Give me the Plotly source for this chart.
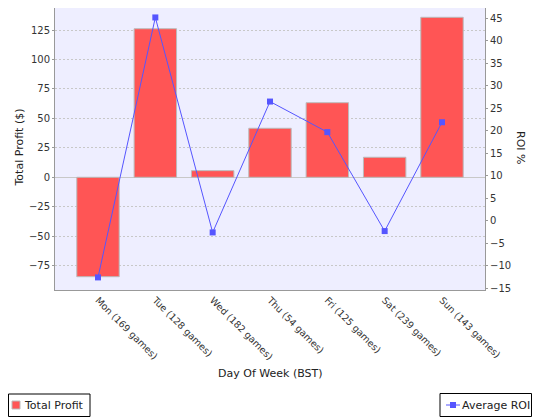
import plotly.graph_objects as go

# ---------------------------- DATA ----------------------------
days = ["Mon (169 games)", "Tue (128 games)", "Wed (182 games)", "Thu (54 games)",
        "Fri (125 games)", "Sat (239 games)", "Sun (143 games)"]
total_profit = [-84.4, 126.1, 5.6, 41.6, 63.3, 17.0, 135.8]
average_roi = [-12.6, 45.2, -2.6, 26.5, 19.7, -2.3, 21.9]

profit_ticks = [-75, -50, -25, 0, 25, 50, 75, 100, 125]
roi_ticks = list(range(-15, 50, 5))

# ---------------------------- STYLE ----------------------------
# the page body keeps its 8px browser margin, so the figure is 8px smaller
# and everything below is laid out in page pixels
font_name = "DejaVu Sans"
bar_red = "#FF5555"
line_blue = "#5555FF"
axis_grey = "#999999"
title_font = dict(family=font_name, size=11, color="#222222")

PLOT_L, PLOT_R, PLOT_T, PLOT_B = 55, 485, 8, 290


def px(x):
    """page x pixel -> paper x"""
    return (x - PLOT_L) / (PLOT_R - PLOT_L)


def py(y):
    """page y pixel -> paper y"""
    return (PLOT_B - y) / (PLOT_B - PLOT_T)


fig = go.Figure()

fig.add_trace(go.Bar(
    x=days, y=total_profit,
    name="Total Profit",
    width=0.74,
    marker=dict(color=bar_red, line=dict(color="#BBBBBB", width=1)),
))

fig.add_trace(go.Scatter(
    x=days, y=average_roi,
    name="Average ROI",
    mode="lines+markers",
    line=dict(color=line_blue, width=1),
    marker=dict(color=line_blue, symbol="square", size=6),
    yaxis="y2",
))

# ---------------------------- LEGEND BOXES ----------------------------
shapes = [
    # Total Profit box + swatch
    dict(type="rect", xref="paper", yref="paper",
         x0=px(8.5), x1=px(90), y0=py(394), y1=py(416.5),
         line=dict(color="black", width=1), fillcolor="white"),
    dict(type="rect", xref="paper", yref="paper",
         x0=px(12), x1=px(20), y0=py(401), y1=py(409),
         line=dict(color="#BBBBBB", width=1), fillcolor=bar_red),
    # Average ROI box + swatch
    dict(type="rect", xref="paper", yref="paper",
         x0=px(440), x1=px(531.5), y0=py(393.5), y1=py(416.5),
         line=dict(color="black", width=1), fillcolor="white"),
    dict(type="line", xref="paper", yref="paper",
         x0=px(446), x1=px(460), y0=py(405), y1=py(405),
         line=dict(color=line_blue, width=1)),
    dict(type="rect", xref="paper", yref="paper",
         x0=px(450), x1=px(456), y0=py(402), y1=py(408),
         line=dict(color=line_blue, width=0), fillcolor=line_blue),
]

annotations = [
    dict(text="Total Profit ($)", textangle=-90, showarrow=False,
         xref="paper", yref="paper", x=px(19), y=py(147.5),
         xanchor="center", yanchor="middle", font=title_font),
    dict(text="ROI %", textangle=90, showarrow=False,
         xref="paper", yref="paper", x=px(520.5), y=py(147.5),
         xanchor="center", yanchor="middle", font=title_font),
    dict(text="Day Of Week (BST)", showarrow=False,
         xref="paper", yref="paper", x=px(270), y=py(373),
         xanchor="center", yanchor="middle", font=title_font),
    dict(text="Total Profit", showarrow=False,
         xref="paper", yref="paper", x=px(22), y=py(405),
         xanchor="left", yanchor="middle", font=title_font),
    dict(text="Average ROI", showarrow=False,
         xref="paper", yref="paper", x=px(460), y=py(405),
         xanchor="left", yanchor="middle", font=title_font),
]

fig.update_layout(
    width=532, height=412,
    margin=dict(l=47, r=55, t=0, b=130, autoexpand=False),
    paper_bgcolor="white",
    plot_bgcolor="#EEEEFF",
    showlegend=False,
    font=dict(family=font_name, size=10, color="#333333"),
    xaxis=dict(
        range=[-0.75, 6.75],
        tickangle=45,
        tickfont=dict(size=9.5),
        showline=True, linecolor=axis_grey, mirror=True,
        ticks="", showgrid=False,
        automargin=False,
    ),
    yaxis=dict(
        range=[-95.7, 143.7],
        tickvals=profit_ticks,
        showline=True, linecolor=axis_grey, mirror=True,
        ticks="outside", ticklen=2, tickcolor=axis_grey,
        showgrid=True, gridcolor="#C8C8C8", griddash="2px,2px", gridwidth=1,
        zeroline=True, zerolinecolor="#C8C8C8", zerolinewidth=1,
        automargin=False,
    ),
    yaxis2=dict(
        overlaying="y", side="right",
        range=[-15.4, 47.3],
        tickvals=roi_ticks,
        showline=True, linecolor=axis_grey,
        ticks="outside", ticklen=2, tickcolor=axis_grey,
        showgrid=False, zeroline=False,
        automargin=False,
    ),
    shapes=shapes,
    annotations=annotations,
)

fig.write_html("out.html")
